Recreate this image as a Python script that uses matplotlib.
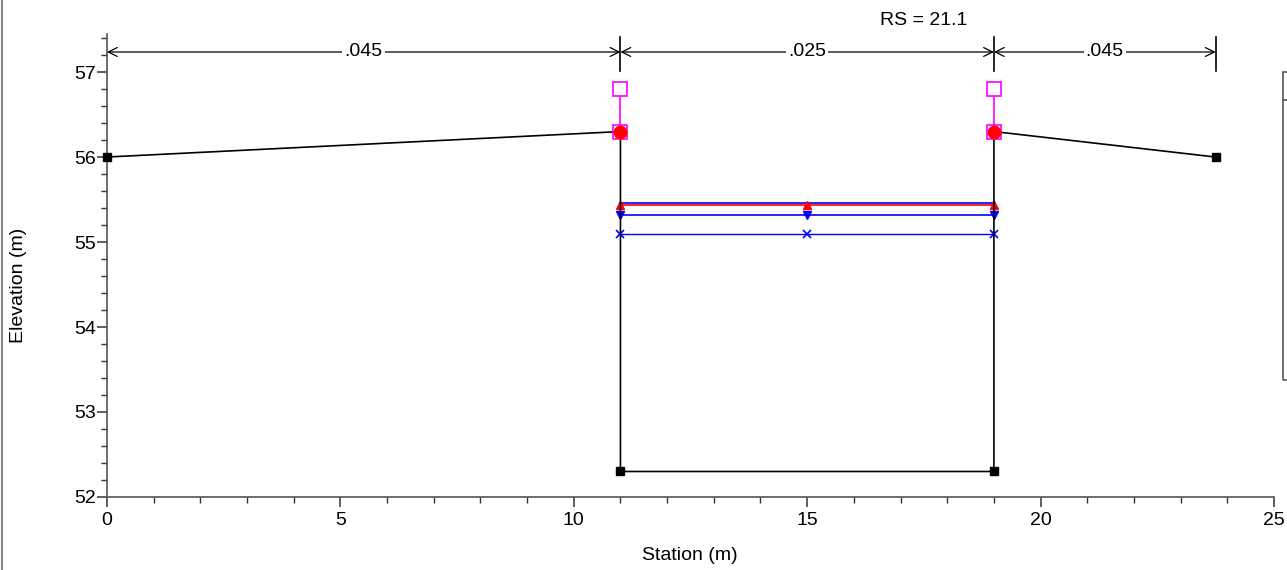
import matplotlib.pyplot as plt
from matplotlib.patches import Rectangle
from matplotlib.lines import Line2D

plt.rcParams['font.family'] = ['Liberation Sans', 'DejaVu Sans']

# ---------- Data ----------
station = [0, 11, 11, 19, 19, 23.75]
elevation = [56.0, 56.3, 52.3, 52.3, 56.3, 56.0]

bank_sta = [11, 19]
bank_elev = [56.3, 56.3]
marker_top = [56.8, 56.8]

ws_sta = [11, 15, 19]
ws_top = [55.46, 55.46, 55.46]
eg_line = [55.44, 55.44, 55.44]
ws_down = [55.32, 55.32, 55.32]
ws_x = [55.09, 55.09, 55.09]

n_breaks = [0, 11, 19, 23.75]
n_values = ['.045', '.025', '.045']

fig = plt.figure(figsize=(12.87, 5.7), dpi=100)
ax = fig.add_axes([0.0831, 0.1281, 0.9068, 0.8123])

# ---------- Water surface lines ----------
ax.plot(ws_sta, ws_top, color='blue', lw=1.2)
ax.plot(ws_sta, eg_line, color='red', lw=1.2, marker='^', ms=6)
ax.plot(ws_sta, ws_down, color='blue', lw=1.2, marker='v', ms=6)
ax.plot(ws_sta, ws_x, color='blue', lw=1, marker='x', ms=6, mew=1.2)

# ---------- Ground ----------
ax.plot(station, elevation, color='black', lw=1.2, marker='s', ms=6,
        clip_on=False, zorder=3)

# ---------- Bank markers ----------
for s, lo, hi in zip(bank_sta, bank_elev, marker_top):
    ax.plot([s, s], [lo, hi], color='magenta', lw=1.2, zorder=4)
ax.plot(bank_sta, marker_top, ls='none', marker='s', ms=10, mfc='white',
        mec='magenta', mew=1.2, zorder=4)
ax.plot(bank_sta, bank_elev, ls='none', marker='s', ms=10, mfc='none',
        mec='magenta', mew=1.2, zorder=4)
ax.plot(bank_sta, bank_elev, ls='none', marker='o', ms=9, color='red',
        zorder=5)

# ---------- Manning's n dimension lines ----------
y_dim = 57.236
for s in n_breaks[1:]:
    ax.plot([s, s], [57.01, 57.41], color='black', lw=1.2, clip_on=False)
for a, b, n in zip(n_breaks[:-1], n_breaks[1:], n_values):
    ax.annotate('', xy=(a, y_dim), xytext=(b, y_dim),
                arrowprops=dict(arrowstyle='<->', color='black', lw=0.9,
                                shrinkA=0, shrinkB=0, mutation_scale=16),
                annotation_clip=False)
    ax.text((a + b) / 2, y_dim, n, ha='center', va='center', fontsize=14,
            bbox=dict(facecolor='white', edgecolor='none', pad=1.5))

ax.text(17.5, 57.61, 'RS = 21.1', ha='center', va='center', fontsize=14,
        clip_on=False)

# ---------- Axes ----------
ax.set_xlim(0, 25)
ax.set_ylim(52, 57.448)
ax.set_xticks([0, 5, 10, 15, 20, 25])
ax.set_xticks(range(0, 26), minor=True)
ax.set_yticks([52, 53, 54, 55, 56, 57])
ax.set_yticks([52 + 0.2 * i for i in range(28)], minor=True)
for side in ['top', 'right']:
    ax.spines[side].set_visible(False)
for side in ['left', 'bottom']:
    ax.spines[side].set_color('#555555')
    ax.spines[side].set_linewidth(1.2)
ax.tick_params(which='major', length=7, width=1.1, color='#333333',
               labelsize=14, pad=1)
ax.tick_params(axis='x', which='major', pad=4)
ax.tick_params(which='minor', length=4, width=1, color='#333333')

fig.text(690 / 1287, 1 - 556 / 570, 'Station (m)', ha='center', va='center',
         fontsize=14)
fig.text(19 / 1287, 0.5, 'Elevation (m)', ha='center', va='center',
         rotation=90, fontsize=14)

# frame line on the left and the clipped legend box on the right
fig.add_artist(Line2D([2 / 1287, 2 / 1287], [0, 1], color='#888888', lw=1.5))
fig.add_artist(Rectangle((1283 / 1287, 1 - 380 / 570), 0.02, 308 / 570,
                         fill=False, edgecolor='#555555', lw=1.2))
fig.add_artist(Line2D([1283 / 1287, 1287 / 1287], [1 - 100 / 570] * 2,
                      color='#555555', lw=1.2))

fig.savefig('out.png', dpi=100)
